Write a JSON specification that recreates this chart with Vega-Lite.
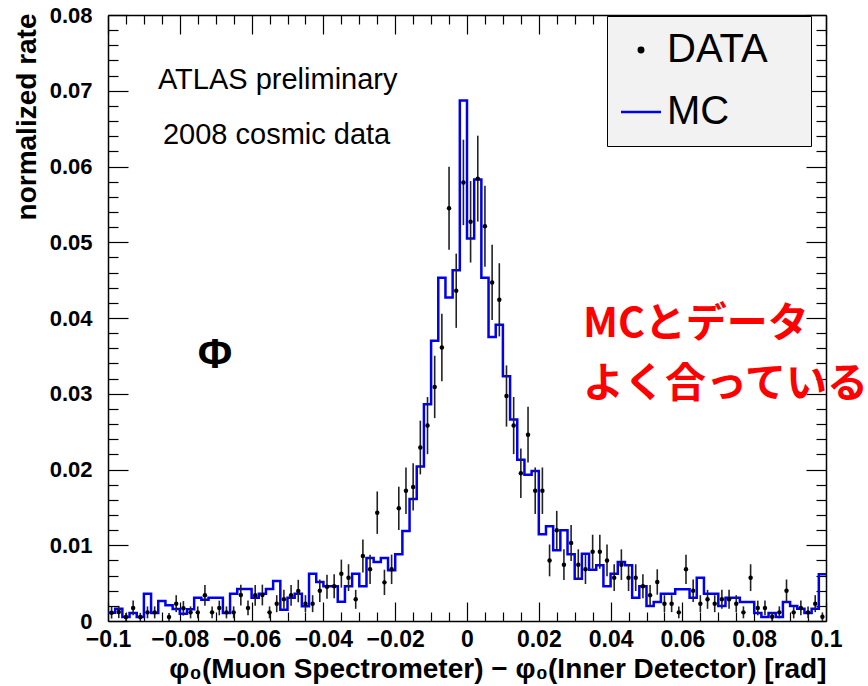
{
"$schema": "https://vega.github.io/schema/vega-lite/v6.json",
"width": 718, "height": 606,
"autosize": "none",
"padding": {"left": 108, "top": 15, "right": 42, "bottom": 65},
"background": "white",
"config": {"view": {"stroke": null}, "font": "Liberation Sans"},
"data": {"values": [
{"lo":-0.1,"hi":-0.098,"x":-0.099,"mc":0.0011,"d":0.0011,"e":0.00078},
{"lo":-0.098,"hi":-0.096,"x":-0.097,"mc":0.00163,"d":0.00119,"e":0.00081},
{"lo":-0.096,"hi":-0.094,"x":-0.095,"mc":0.00053,"d":0.00053,"e":0.00054},
{"lo":-0.094,"hi":-0.092,"x":-0.093,"mc":0.00106,"d":0.00172,"e":0.00097},
{"lo":-0.092,"hi":-0.09,"x":-0.091,"mc":0.00053,"d":0.00053,"e":0.00054},
{"lo":-0.09,"hi":-0.088,"x":-0.089,"mc":0.0036,"d":0.00114,"e":0.00079},
{"lo":-0.088,"hi":-0.086,"x":-0.087,"mc":0.00106,"d":0.00114,"e":0.00079},
{"lo":-0.086,"hi":-0.084,"x":-0.085,"mc":0.00264,"d":null,"e":null},
{"lo":-0.084,"hi":-0.082,"x":-0.083,"mc":0.00207,"d":0.00053,"e":0.00054},
{"lo":-0.082,"hi":-0.08,"x":-0.081,"mc":0.00158,"d":0.00229,"e":0.00112},
{"lo":-0.08,"hi":-0.078,"x":-0.079,"mc":0.00097,"d":0.00167,"e":0.00096},
{"lo":-0.078,"hi":-0.076,"x":-0.077,"mc":0.00154,"d":0.00114,"e":0.00079},
{"lo":-0.076,"hi":-0.074,"x":-0.075,"mc":0.00308,"d":0.00114,"e":0.00079},
{"lo":-0.074,"hi":-0.072,"x":-0.073,"mc":0.00282,"d":0.00339,"e":0.00137},
{"lo":-0.072,"hi":-0.07,"x":-0.071,"mc":0.00308,"d":0.00114,"e":0.00079},
{"lo":-0.07,"hi":-0.068,"x":-0.069,"mc":0.00308,"d":0.00172,"e":0.00097},
{"lo":-0.068,"hi":-0.066,"x":-0.067,"mc":0.00106,"d":0.00114,"e":0.00079},
{"lo":-0.066,"hi":-0.064,"x":-0.065,"mc":0.0036,"d":0.00114,"e":0.00079},
{"lo":-0.064,"hi":-0.062,"x":-0.063,"mc":0.00422,"d":0.00343,"e":0.00137},
{"lo":-0.062,"hi":-0.06,"x":-0.061,"mc":0.00422,"d":0.00172,"e":0.00097},
{"lo":-0.06,"hi":-0.058,"x":-0.059,"mc":0.00308,"d":0.00339,"e":0.00137},
{"lo":-0.058,"hi":-0.056,"x":-0.057,"mc":0.0036,"d":0.00343,"e":0.00137},
{"lo":-0.056,"hi":-0.054,"x":-0.055,"mc":0.00422,"d":0.00114,"e":0.00079},
{"lo":-0.054,"hi":-0.052,"x":-0.053,"mc":0.00528,"d":0.00229,"e":0.00112},
{"lo":-0.052,"hi":-0.05,"x":-0.051,"mc":0.0015,"d":0.00286,"e":0.00125},
{"lo":-0.05,"hi":-0.048,"x":-0.049,"mc":0.00308,"d":0.00339,"e":0.00137},
{"lo":-0.048,"hi":-0.046,"x":-0.047,"mc":0.0036,"d":0.00396,"e":0.00148},
{"lo":-0.046,"hi":-0.044,"x":-0.045,"mc":0.00194,"d":0.00229,"e":0.00112},
{"lo":-0.044,"hi":-0.042,"x":-0.043,"mc":0.00625,"d":0.00229,"e":0.00112},
{"lo":-0.042,"hi":-0.04,"x":-0.041,"mc":0.00515,"d":0.004,"e":0.00148},
{"lo":-0.04,"hi":-0.038,"x":-0.039,"mc":0.00458,"d":0.00453,"e":0.00158},
{"lo":-0.038,"hi":-0.036,"x":-0.037,"mc":0.00458,"d":0.00458,"e":0.00159},
{"lo":-0.036,"hi":-0.034,"x":-0.035,"mc":0.00255,"d":0.00625,"e":0.00185},
{"lo":-0.034,"hi":-0.032,"x":-0.033,"mc":0.00458,"d":0.00572,"e":0.00177},
{"lo":-0.032,"hi":-0.03,"x":-0.031,"mc":0.00625,"d":0.00286,"e":0.00125},
{"lo":-0.03,"hi":-0.028,"x":-0.029,"mc":0.00458,"d":0.00858,"e":0.00217},
{"lo":-0.028,"hi":-0.026,"x":-0.027,"mc":0.00832,"d":0.00682,"e":0.00194},
{"lo":-0.026,"hi":-0.024,"x":-0.025,"mc":0.00779,"d":0.0143,"e":0.0028},
{"lo":-0.024,"hi":-0.022,"x":-0.023,"mc":0.00832,"d":0.0051,"e":0.00167},
{"lo":-0.022,"hi":-0.02,"x":-0.021,"mc":0.00669,"d":0.00682,"e":0.00194},
{"lo":-0.02,"hi":-0.018,"x":-0.019,"mc":0.0088,"d":0.01487,"e":0.00286},
{"lo":-0.018,"hi":-0.016,"x":-0.017,"mc":0.01188,"d":0.0172,"e":0.00307},
{"lo":-0.016,"hi":-0.014,"x":-0.015,"mc":0.0161,"d":0.0177,"e":0.00312},
{"lo":-0.014,"hi":-0.012,"x":-0.013,"mc":0.0204,"d":0.0229,"e":0.00355},
{"lo":-0.012,"hi":-0.01,"x":-0.011,"mc":0.0286,"d":0.0258,"e":0.00377},
{"lo":-0.01,"hi":-0.008,"x":-0.009,"mc":0.037,"d":0.0309,"e":0.00412},
{"lo":-0.008,"hi":-0.006,"x":-0.007,"mc":0.0453,"d":0.0361,"e":0.00446},
{"lo":-0.006,"hi":-0.004,"x":-0.005,"mc":0.0427,"d":0.0545,"e":0.00548},
{"lo":-0.004,"hi":-0.002,"x":-0.003,"mc":0.0463,"d":0.0436,"e":0.0049},
{"lo":-0.002,"hi":0,"x":-0.001,"mc":0.0687,"d":0.0579,"e":0.00564},
{"lo":0,"hi":0.002,"x":0.001,"mc":0.0505,"d":0.0527,"e":0.00538},
{"lo":0.002,"hi":0.004,"x":0.003,"mc":0.0583,"d":0.0584,"e":0.00567},
{"lo":0.004,"hi":0.006,"x":0.005,"mc":0.0453,"d":0.0521,"e":0.00535},
{"lo":0.006,"hi":0.008,"x":0.007,"mc":0.0375,"d":0.0447,"e":0.00496},
{"lo":0.008,"hi":0.01,"x":0.009,"mc":0.0391,"d":0.0424,"e":0.00483},
{"lo":0.01,"hi":0.012,"x":0.011,"mc":0.0323,"d":0.0297,"e":0.00404},
{"lo":0.012,"hi":0.014,"x":0.013,"mc":0.0266,"d":0.0258,"e":0.00377},
{"lo":0.014,"hi":0.016,"x":0.015,"mc":0.0213,"d":0.0195,"e":0.00327},
{"lo":0.016,"hi":0.018,"x":0.017,"mc":0.0193,"d":0.0246,"e":0.00368},
{"lo":0.018,"hi":0.02,"x":0.019,"mc":0.0198,"d":0.0172,"e":0.00307},
{"lo":0.02,"hi":0.022,"x":0.021,"mc":0.01144,"d":0.0172,"e":0.00307},
{"lo":0.022,"hi":0.024,"x":0.023,"mc":0.0125,"d":0.008,"e":0.0021},
{"lo":0.024,"hi":0.026,"x":0.025,"mc":0.00933,"d":0.01197,"e":0.00257},
{"lo":0.026,"hi":0.028,"x":0.027,"mc":0.01197,"d":0.00744,"e":0.00202},
{"lo":0.028,"hi":0.03,"x":0.029,"mc":0.0088,"d":0.0103,"e":0.00238},
{"lo":0.03,"hi":0.032,"x":0.031,"mc":0.00559,"d":0.00744,"e":0.00202},
{"lo":0.032,"hi":0.034,"x":0.033,"mc":0.00889,"d":0.00682,"e":0.00194},
{"lo":0.034,"hi":0.036,"x":0.035,"mc":0.00678,"d":0.00915,"e":0.00224},
{"lo":0.036,"hi":0.038,"x":0.037,"mc":0.00735,"d":0.00915,"e":0.00224},
{"lo":0.038,"hi":0.04,"x":0.039,"mc":0.00458,"d":0.008,"e":0.0021},
{"lo":0.04,"hi":0.042,"x":0.041,"mc":0.00625,"d":0.00572,"e":0.00177},
{"lo":0.042,"hi":0.044,"x":0.043,"mc":0.00779,"d":0.00744,"e":0.00202},
{"lo":0.044,"hi":0.046,"x":0.045,"mc":0.00735,"d":0.00572,"e":0.00177},
{"lo":0.046,"hi":0.048,"x":0.047,"mc":0.00308,"d":0.00572,"e":0.00177},
{"lo":0.048,"hi":0.05,"x":0.049,"mc":0.00458,"d":0.00458,"e":0.00159},
{"lo":0.05,"hi":0.052,"x":0.051,"mc":0.00198,"d":0.00339,"e":0.00137},
{"lo":0.052,"hi":0.054,"x":0.053,"mc":0.00251,"d":0.00515,"e":0.00168},
{"lo":0.054,"hi":0.056,"x":0.055,"mc":0.0036,"d":0.00229,"e":0.00112},
{"lo":0.056,"hi":0.058,"x":0.057,"mc":0.0036,"d":0.00229,"e":0.00112},
{"lo":0.058,"hi":0.06,"x":0.059,"mc":0.00418,"d":0.00114,"e":0.00079},
{"lo":0.06,"hi":0.062,"x":0.061,"mc":0.00418,"d":0.00682,"e":0.00194},
{"lo":0.062,"hi":0.064,"x":0.063,"mc":0.00308,"d":0.004,"e":0.00148},
{"lo":0.064,"hi":0.066,"x":0.065,"mc":0.00572,"d":0.00229,"e":0.00112},
{"lo":0.066,"hi":0.068,"x":0.067,"mc":0.0036,"d":0.00286,"e":0.00125},
{"lo":0.068,"hi":0.07,"x":0.069,"mc":0.0036,"d":0.00229,"e":0.00112},
{"lo":0.07,"hi":0.072,"x":0.071,"mc":0.00198,"d":0.00286,"e":0.00125},
{"lo":0.072,"hi":0.074,"x":0.073,"mc":0.00308,"d":0.00286,"e":0.00125},
{"lo":0.074,"hi":0.076,"x":0.075,"mc":0.00308,"d":0.00229,"e":0.00112},
{"lo":0.076,"hi":0.078,"x":0.077,"mc":0.00251,"d":0.00114,"e":0.00079},
{"lo":0.078,"hi":0.08,"x":0.079,"mc":0.00251,"d":0.00572,"e":0.00177},
{"lo":0.08,"hi":0.082,"x":0.081,"mc":0.00106,"d":0.00172,"e":0.00097},
{"lo":0.082,"hi":0.084,"x":0.083,"mc":0.00053,"d":0.00172,"e":0.00097},
{"lo":0.084,"hi":0.086,"x":0.085,"mc":0.00106,"d":0.00057,"e":0.00056},
{"lo":0.086,"hi":0.088,"x":0.087,"mc":0.00053,"d":0.00114,"e":0.00079},
{"lo":0.088,"hi":0.09,"x":0.089,"mc":0.00251,"d":0.004,"e":0.00148},
{"lo":0.09,"hi":0.092,"x":0.091,"mc":0.00198,"d":0.00114,"e":0.00079},
{"lo":0.092,"hi":0.094,"x":0.093,"mc":0.00163,"d":0.00172,"e":0.00097},
{"lo":0.094,"hi":0.096,"x":0.095,"mc":0.00106,"d":0.00114,"e":0.00079},
{"lo":0.096,"hi":0.098,"x":0.097,"mc":0.00163,"d":0.00229,"e":0.00112},
{"lo":0.098,"hi":0.1,"x":0.099,"mc":0.00616,"d":0.00057,"e":0.00056}
]},
"resolve": {"axis": {"x": "independent", "y": "independent"}},
"layer": [
{
"transform": [{"fold": ["lo", "hi"], "as": ["edgeKey", "edge"]}],
"mark": {"type": "line", "strokeWidth": 2.5},
"encoding": {
"x": {"field": "edge", "type": "quantitative", "scale": {"domain": [-0.1, 0.1], "nice": false, "zero": false},
"axis": {"orient": "bottom", "grid": false,
"values": [-0.1,-0.095,-0.09,-0.085,-0.08,-0.075,-0.07,-0.065,-0.06,-0.055,-0.05,-0.045,-0.04,-0.035,-0.03,-0.025,-0.02,-0.015,-0.01,-0.005,0,0.005,0.01,0.015,0.02,0.025,0.03,0.035,0.04,0.045,0.05,0.055,0.06,0.065,0.07,0.075,0.08,0.085,0.09,0.095,0.1],
"tickSize": {"condition": {"test": "abs(datum.value*50-round(datum.value*50))<0.000001", "value": -19}, "value": -9},
"labelExpr": "abs(datum.value*50-round(datum.value*50))<0.000001 ? format(datum.value, '.2~f') : ''",
"labelFont": "Liberation Sans", "labelFontSize": 23, "labelFontWeight": "bold", "labelColor": "black",
"labelPadding": 26, "labelFlush": false, "labelOverlap": false,
"tickColor": "black", "tickWidth": 1.2, "domainColor": "black", "domainWidth": 1.5,
"title": "φ₀(Muon Spectrometer) − φ₀(Inner Detector) [rad]",
"titleFont": "Liberation Sans", "titleFontSize": 28, "titleFontWeight": "bold", "titleColor": "black",
"titleAnchor": "end", "titleAlign": "right", "titleBaseline": "alphabetic", "titleX": 718, "titleY": 56}},
"y": {"field": "mc", "type": "quantitative", "scale": {"domain": [0, 0.08], "nice": false},
"axis": {"orient": "left", "grid": false,
"values": [0,0.002,0.004,0.006,0.008,0.01,0.012,0.014,0.016,0.018,0.02,0.022,0.024,0.026,0.028,0.03,0.032,0.034,0.036,0.038,0.04,0.042,0.044,0.046,0.048,0.05,0.052,0.054,0.056,0.058,0.06,0.062,0.064,0.066,0.068,0.07,0.072,0.074,0.076,0.078,0.08],
"tickSize": {"condition": {"test": "abs(datum.value*100-round(datum.value*100))<0.000001", "value": -20}, "value": -10},
"labelExpr": "abs(datum.value*100-round(datum.value*100))<0.000001 ? format(datum.value, '.2~f') : ''",
"labelFont": "Liberation Sans", "labelFontSize": 22, "labelFontWeight": "bold", "labelColor": "black",
"labelPadding": 36, "labelFlush": false, "labelOverlap": false,
"tickColor": "black", "tickWidth": 1.2, "domainColor": "black", "domainWidth": 1.5,
"title": "normalized rate",
"titleFont": "Liberation Sans", "titleFontSize": 28, "titleFontWeight": "bold", "titleColor": "black",
"titleAnchor": "end", "titleAngle": 270, "titleAlign": "right", "titleBaseline": "alphabetic", "titleX": -73, "titleY": -2}},
"color": {"datum": "MC", "scale": {"domain": ["DATA", "MC"], "range": ["black", "#0000ee"]},
"legend": {"orient": "none", "legendX": 499, "legendY": 1, "title": null,
"fillColor": "#f2f2f2", "strokeColor": "black", "padding": 14, "rowPadding": 22,
"symbolSize": 1600, "labelFont": "Liberation Sans", "labelFontSize": 40, "labelColor": "black", "labelOffset": 6,
"labelLimit": 400,
"labelExpr": "datum.label === 'DATA' ? 'DATA\u2800' : datum.label",
"encode": {"symbols": {"update": {
"shape": {"signal": "datum.value === 'MC' ? 'stroke' : 'circle'"},
"size": {"signal": "datum.value === 'MC' ? 1600 : 20"},
"fill": {"signal": "datum.value === 'MC' ? 'transparent' : 'black'"},
"stroke": {"signal": "datum.value === 'MC' ? '#0000ee' : 'transparent'"},
"strokeWidth": {"value": 2.5}}}}}},
"order": {"value": null}
}
},
{
"mark": {"type": "errorbar", "ticks": false, "rule": {"strokeWidth": 1.6, "color": "#222222"}},
"encoding": {
"x": {"field": "x", "type": "quantitative", "scale": {"domain": [-0.1, 0.1], "nice": false, "zero": false}, "axis": null},
"y": {"field": "d", "type": "quantitative", "scale": {"domain": [0, 0.08], "nice": false}, "axis": null},
"yError": {"field": "e"}
}
},
{
"mark": {"type": "point", "filled": true, "size": 20, "opacity": 1},
"encoding": {
"x": {"field": "x", "type": "quantitative", "scale": {"domain": [-0.1, 0.1], "nice": false, "zero": false},
"axis": {"orient": "top", "grid": false, "labels": false, "title": null,
"values": [-0.1,-0.095,-0.09,-0.085,-0.08,-0.075,-0.07,-0.065,-0.06,-0.055,-0.05,-0.045,-0.04,-0.035,-0.03,-0.025,-0.02,-0.015,-0.01,-0.005,0,0.005,0.01,0.015,0.02,0.025,0.03,0.035,0.04,0.045,0.05,0.055,0.06,0.065,0.07,0.075,0.08,0.085,0.09,0.095,0.1],
"tickSize": {"condition": {"test": "abs(datum.value*50-round(datum.value*50))<0.000001", "value": -19}, "value": -9},
"tickColor": "black", "tickWidth": 1.2, "domainColor": "black", "domainWidth": 1.5}},
"y": {"field": "d", "type": "quantitative", "scale": {"domain": [0, 0.08], "nice": false},
"axis": {"orient": "right", "grid": false, "labels": false, "title": null,
"values": [0,0.002,0.004,0.006,0.008,0.01,0.012,0.014,0.016,0.018,0.02,0.022,0.024,0.026,0.028,0.03,0.032,0.034,0.036,0.038,0.04,0.042,0.044,0.046,0.048,0.05,0.052,0.054,0.056,0.058,0.06,0.062,0.064,0.066,0.068,0.07,0.072,0.074,0.076,0.078,0.08],
"tickSize": {"condition": {"test": "abs(datum.value*100-round(datum.value*100))<0.000001", "value": -20}, "value": -10},
"tickColor": "black", "tickWidth": 1.2, "domainColor": "black", "domainWidth": 1.5}},
"color": {"datum": "DATA"}
}
},
{
"data": {"values": [{"t": "ATLAS preliminary"}]},
"mark": {"type": "text", "align": "left", "baseline": "middle", "font": "Liberation Sans", "fontSize": 29, "color": "black"},
"encoding": {
"x": {"datum": -0.0861, "type": "quantitative", "axis": null},
"y": {"datum": 0.0714, "type": "quantitative", "axis": null},
"text": {"field": "t"}
}
},
{
"data": {"values": [{"t": "2008 cosmic data"}]},
"mark": {"type": "text", "align": "left", "baseline": "middle", "font": "Liberation Sans", "fontSize": 29, "color": "black"},
"encoding": {
"x": {"datum": -0.0847, "type": "quantitative", "axis": null},
"y": {"datum": 0.0642, "type": "quantitative", "axis": null},
"text": {"field": "t"}
}
},
{
"data": {"values": [{"t": "Φ"}]},
"mark": {"type": "text", "align": "center", "baseline": "middle", "font": "Liberation Sans", "fontSize": 42, "fontWeight": "bold", "color": "black"},
"encoding": {
"x": {"datum": -0.0702, "type": "quantitative", "axis": null},
"y": {"datum": 0.0351, "type": "quantitative", "axis": null},
"text": {"field": "t"}
}
},
{
"data": {"values": [{"t": "MCとデータ"}]},
"mark": {"type": "text", "align": "left", "baseline": "middle", "font": "Noto Sans CJK JP", "fontSize": 41, "fontWeight": "bold", "color": "#ff0000"},
"encoding": {
"x": {"datum": 0.0323, "type": "quantitative", "axis": null},
"y": {"datum": 0.0391, "type": "quantitative", "axis": null},
"text": {"field": "t"}
}
},
{
"data": {"values": [{"t": "よく合っている"}]},
"mark": {"type": "text", "align": "left", "baseline": "middle", "font": "Noto Sans CJK JP", "fontSize": 41, "fontWeight": "bold", "color": "#ff0000"},
"encoding": {
"x": {"datum": 0.0323, "type": "quantitative", "axis": null},
"y": {"datum": 0.0312, "type": "quantitative", "axis": null},
"text": {"field": "t"}
}
}
]
}
